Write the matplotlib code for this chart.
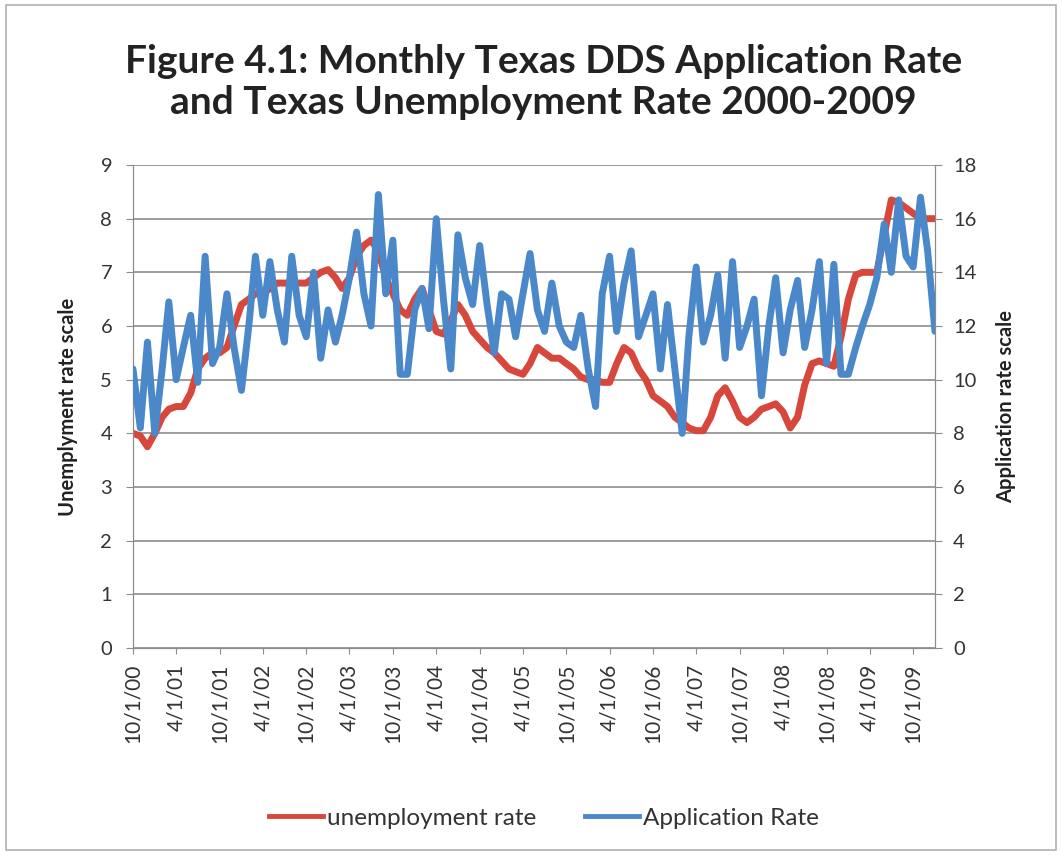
"""Monthly Texas DDS application rate vs. Texas unemployment rate, 2000-2009."""
import numpy as np
import pandas as pd
import matplotlib
matplotlib.use("Agg")
import matplotlib.pyplot as plt
from matplotlib.lines import Line2D
from matplotlib.patches import Rectangle

plt.rcParams['font.family'] = ['Lato', 'DejaVu Sans']

# monthly series, Oct 2000 .. Jan 2010
months = pd.date_range("2000-10-01", periods=112, freq="MS")

unemployment = [
    4.0, 3.95, 3.75, 4.0, 4.3, 4.45, 4.5, 4.5, 4.75, 5.2, 5.4, 5.5,
    5.5, 5.6, 6.0, 6.4, 6.5, 6.6, 6.6, 6.7, 6.8, 6.8, 6.8, 6.8,
    6.8, 6.9, 7.0, 7.05, 6.9, 6.7, 6.9, 7.3, 7.5, 7.6, 7.4, 6.9,
    6.6, 6.3, 6.2, 6.5, 6.7, 6.3, 5.9, 5.85, 6.1, 6.4, 6.2, 5.9,
    5.75, 5.6, 5.5, 5.35, 5.2, 5.15, 5.1, 5.3, 5.6, 5.5, 5.4, 5.4,
    5.3, 5.2, 5.05, 5.0, 5.0, 4.95, 4.95, 5.3, 5.6, 5.5, 5.2, 5.0,
    4.7, 4.6, 4.5, 4.3, 4.2, 4.1, 4.05, 4.05, 4.3, 4.7, 4.85, 4.6,
    4.3, 4.2, 4.3, 4.45, 4.5, 4.55, 4.4, 4.1, 4.3, 4.9, 5.3, 5.35,
    5.3, 5.25, 5.8, 6.5, 6.95, 7.0, 7.0, 7.0, 7.7, 8.35, 8.3, 8.2,
    8.1, 8.0, 8.0, 8.0,
]

application = [
    10.4, 8.2, 11.4, 8.0, 10.4, 12.9, 10.0, 11.2, 12.4, 9.9, 14.6, 10.6,
    11.2, 13.2, 11.2, 9.6, 12.0, 14.6, 12.4, 14.4, 12.6, 11.4, 14.6, 12.4,
    11.6, 14.0, 10.8, 12.6, 11.4, 12.4, 13.8, 15.5, 13.2, 12.0, 16.9, 13.2,
    15.2, 10.2, 10.2, 12.6, 13.4, 11.9, 16.0, 13.0, 10.4, 15.4, 13.8, 12.8,
    15.0, 12.8, 11.0, 13.2, 13.0, 11.6, 13.2, 14.7, 12.6, 11.8, 13.6, 12.0,
    11.4, 11.2, 12.4, 10.4, 9.0, 13.2, 14.6, 11.8, 13.6, 14.8, 11.6, 12.4,
    13.2, 10.4, 12.8, 10.4, 8.0, 11.6, 14.2, 11.4, 12.4, 13.9, 10.8, 14.4,
    11.2, 12.0, 13.0, 9.4, 12.0, 13.8, 11.0, 12.6, 13.7, 11.2, 12.6, 14.4,
    10.6, 14.3, 10.2, 10.2, 11.2, 12.0, 12.8, 13.8, 15.8, 14.0, 16.7, 14.6,
    14.2, 16.8, 14.8, 11.8,
]

title = "Figure 4.1: Monthly Texas DDS Application Rate\nand Texas Unemployment Rate 2000-2009"
red = "#d8473b"
blue = "#4a88c9"
grid_gray = "#8c8c8c"
text_col = "#333333"

fig = plt.figure(figsize=(10.62, 8.55), dpi=100)
fig.patches.append(Rectangle((0.006, 0.006), 0.988, 0.988, transform=fig.transFigure,
                             fill=False, edgecolor="#b0b0b0", linewidth=1.2))

ax = fig.add_axes([0.1252, 0.2421, 0.7552, 0.5649])
ax2 = ax.twinx()

ax.plot(months, unemployment, color=red, linewidth=5, solid_joinstyle="round",
        solid_capstyle="round", zorder=3)
ax2.plot(months, application, color=blue, linewidth=5, solid_joinstyle="round",
         solid_capstyle="round", zorder=3)

ax.set_ylim(0, 9)
ax2.set_ylim(0, 18)
ax.set_yticks(range(0, 10))
ax2.set_yticks(range(0, 19, 2))
ax.set_xlim(months[0], months[-1])

# tick every six months, Excel-style m/d/yy labels
tick_dates = months[::6]
ax.set_xticks(tick_dates)
ax.set_xticklabels([f"{d.month}/1/{d.year % 100:02d}" for d in tick_dates],
                   rotation=90)

ax.yaxis.grid(True, color=grid_gray, linewidth=1.2)
ax.set_axisbelow(True)
for a in (ax, ax2):
    a.spines["top"].set_visible(False)
    for side in ("left", "right", "bottom"):
        a.spines[side].set_color(grid_gray)
    a.tick_params(colors=grid_gray, labelcolor=text_col, labelsize=14.5, length=5)
ax.tick_params(axis="x", length=4, pad=7, labelsize=15)
ax.tick_params(axis="y", pad=10)
ax2.tick_params(axis="y", pad=8)

ax.set_ylabel("Unemplyment rate scale", fontsize=14.5, fontweight="bold",
              color="#222222", labelpad=16)
ax2.set_ylabel("Application rate scale", fontsize=14.5, fontweight="bold",
               color="#222222", rotation=90, labelpad=14)

fig.text(0.512, 0.904, title, ha="center", va="center", fontsize=28,
         fontweight="bold", color="#222222", linespacing=1.22)

handles = [Line2D([], [], color=red, linewidth=3.5), Line2D([], [], color=blue, linewidth=3.5)]
fig.legend(handles, ["unemployment rate", "Application Rate"], loc="center",
           bbox_to_anchor=(0.512, 0.043), ncol=2, frameon=False, fontsize=17.5,
           handlelength=2.25, handletextpad=0.15, columnspacing=2.0,
           labelcolor=text_col)

fig.savefig("out.png", dpi=100)
